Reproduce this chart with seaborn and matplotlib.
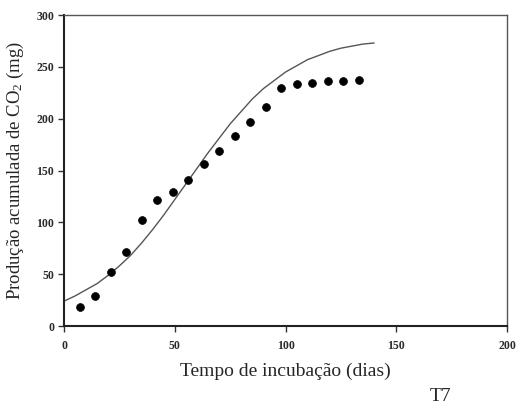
import matplotlib
matplotlib.use("Agg")
import matplotlib.pyplot as plt
import seaborn as sns
import pandas as pd

# Observed cumulative CO2 production (mg) by incubation day
dias_obs = [7, 14, 21, 28, 35, 42, 49, 56, 63, 70, 77, 84, 91, 98, 105, 112, 119, 126, 133]
co2_obs = [18, 29, 52, 71, 102, 122, 129, 141, 156, 169, 183, 197, 211, 230, 233, 234, 236, 236, 237]

# Fitted curve, sampled every 5 days
dias_aj = [0, 5, 10, 15, 20, 25, 30, 35, 40, 45, 50, 55, 60, 65, 70, 75, 80, 85, 90,
           95, 100, 105, 110, 115, 120, 125, 130, 135, 140]
co2_aj = [24, 29, 35, 41, 49, 58, 68, 80, 93, 107, 122, 137, 152, 167, 181, 195, 207,
          219, 229, 237, 245, 251, 257, 261, 265, 268, 270, 272, 273]

x_ticks = [0, 50, 100, 150, 200]
y_ticks = [0, 50, 100, 150, 200, 250, 300]

sns.set_theme(style="white")
plt.rcParams["font.family"] = ["Liberation Serif", "DejaVu Serif"]
plt.rcParams["mathtext.fontset"] = "custom"
plt.rcParams["mathtext.rm"] = "Liberation Serif"
plt.rcParams["mathtext.it"] = "Liberation Serif:italic"

obs = pd.DataFrame({"dias": dias_obs, "co2": co2_obs})
aj = pd.DataFrame({"dias": dias_aj, "co2": co2_aj})

fig = plt.figure(figsize=(5.17, 4.09), dpi=100)
ax = fig.add_axes([0.1238, 0.2029, 0.857, 0.7604])

sns.lineplot(data=aj, x="dias", y="co2", ax=ax, color="#555555", linewidth=1.0)
sns.scatterplot(data=obs, x="dias", y="co2", ax=ax, color="black", s=32,
                edgecolor="black", linewidth=0.5, zorder=3)

ax.set_xlim(0, 200)
ax.set_ylim(0, 300)
ax.set_xticks(x_ticks)
ax.set_yticks(y_ticks)
ax.set_xticklabels([str(t) for t in x_ticks], fontsize=8.5, fontweight="bold", color="#2a2a2a")
ax.set_yticklabels([str(t) for t in y_ticks], fontsize=8.5, fontweight="bold", color="#2a2a2a")
ax.tick_params(axis="both", direction="out", length=4, width=1, color="#333333",
               bottom=True, left=True)
ax.tick_params(axis="x", pad=6)
ax.tick_params(axis="y", pad=3)

for side in ["left", "bottom"]:
    ax.spines[side].set_color("#222222")
    ax.spines[side].set_linewidth(1.5)
for side in ["top", "right"]:
    ax.spines[side].set_color("#555555")
    ax.spines[side].set_linewidth(1.0)

ax.set_xlabel("Tempo de incubação (dias)", fontsize=14)
ax.set_ylabel("Produção acumulada de CO$_2$ (mg)", fontsize=13.5)
ax.xaxis.set_label_coords(0.5, -0.118)
ax.yaxis.set_label_coords(-0.085, 0.5)

fig.text(0.852, 0.010, "T7", fontsize=14, ha="center", va="bottom")

fig.savefig("out.png", dpi=100)
